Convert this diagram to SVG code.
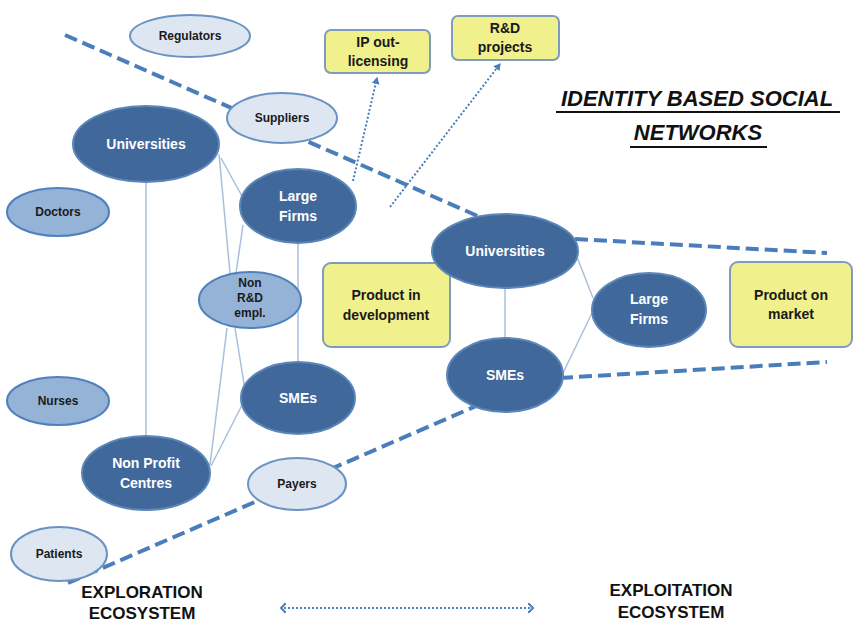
<svg xmlns="http://www.w3.org/2000/svg" width="854" height="625" viewBox="0 0 854 625">
<defs>
<marker id="ah" markerWidth="8" markerHeight="8" refX="6" refY="4" orient="auto" markerUnits="userSpaceOnUse">
<path d="M0,0 L7,4 L0,8 Z" fill="#4a7ebb"/>
</marker>
<marker id="ahs" markerWidth="8" markerHeight="10" refX="2" refY="5" orient="auto-start-reverse" markerUnits="userSpaceOnUse">
<path d="M0,0 L5,5 L0,10" fill="none" stroke="#4a7ebb" stroke-width="2"/>
</marker>
<style>
.dark{fill:#41689b;stroke:#5b86b8;stroke-width:2}
.mid{fill:#95b3d7;stroke:#4f81bd;stroke-width:2}
.light{fill:#dde6f1;stroke:#6a93c4;stroke-width:2}
.box{fill:#f0f08c;stroke:#7f9bbf;stroke-width:2}
.t{font-family:"Liberation Sans",Arial,sans-serif;font-weight:bold;text-anchor:middle}
.w{fill:#ffffff;font-size:14px}
.d{fill:#1a1a1a;font-size:12px}
.b{fill:#1a1a1a;font-size:14px}
.thin{stroke:#a9c0dc;stroke-width:1.5;fill:none}
.dash{stroke:#4a7ebb;stroke-width:4;stroke-dasharray:13 6;fill:none}
.dot{stroke:#4a7ebb;stroke-width:2;stroke-dasharray:2 2;fill:none}
.big{font-family:"Liberation Sans",Arial,sans-serif;font-weight:bold;fill:#111;font-size:17px;text-anchor:middle}
.title{font-family:"Liberation Sans",Arial,sans-serif;font-weight:bold;font-style:italic;fill:#111;font-size:22px;text-anchor:middle}
</style>
</defs>
<rect width="854" height="625" fill="#ffffff"/>

<g id="connectors">
<line class="dash" x1="65" y1="35" x2="505" y2="228"/>
<line class="dash" x1="575" y1="239" x2="827" y2="253"/>
<line class="dash" x1="68" y1="583" x2="520" y2="387"/>
<line class="dash" x1="560" y1="378" x2="827" y2="362"/>
<line class="thin" x1="146" y1="182" x2="146" y2="437"/>
<line class="thin" x1="219" y1="154" x2="230" y2="273"/>
<line class="thin" x1="221" y1="158" x2="243" y2="198"/>
<line class="thin" x1="243" y1="225" x2="236" y2="273"/>
<line class="thin" x1="298" y1="243" x2="298" y2="362"/>
<line class="thin" x1="227" y1="328" x2="210" y2="465"/>
<line class="thin" x1="235" y1="328" x2="247" y2="402"/>
<line class="thin" x1="242" y1="405" x2="211" y2="466"/>
<line class="thin" x1="505" y1="288" x2="505" y2="338"/>
<line class="thin" x1="577" y1="257" x2="593" y2="298"/>
<line class="thin" x1="563" y1="373" x2="593" y2="311"/>
<line class="dot" x1="353" y1="181" x2="377" y2="78" marker-end="url(#ah)"/>
<line class="dot" x1="390" y1="207" x2="500" y2="64" marker-end="url(#ah)"/>
<line class="dot" x1="284" y1="608" x2="530" y2="608" marker-start="url(#ahs)" marker-end="url(#ahs)"/>
</g>

<g id="regulators"><ellipse class="light" cx="190" cy="36" rx="60" ry="21"/><text class="t d" x="190" y="40">Regulators</text></g>
<g id="suppliers"><ellipse class="light" cx="282" cy="118" rx="55" ry="25"/><text class="t d" x="282" y="122">Suppliers</text></g>
<g id="universities-left"><ellipse class="dark" cx="146" cy="144" rx="73" ry="38"/><text class="t w" x="146" y="149">Universities</text></g>
<g id="doctors"><ellipse class="mid" cx="58" cy="212" rx="51" ry="24"/><text class="t d" x="58" y="216">Doctors</text></g>
<g id="large-firms-left"><ellipse class="dark" cx="298" cy="206" rx="58" ry="37"/><text class="t w" x="298" y="201">Large</text><text class="t w" x="298" y="221">Firms</text></g>
<g id="ip-out-licensing"><rect class="box" x="325" y="30" width="105" height="43" rx="6"/><text class="t b" x="378" y="47">IP out-</text><text class="t b" x="378" y="66">licensing</text></g>
<g id="rd-projects"><rect class="box" x="452" y="16" width="107" height="44" rx="6"/><text class="t b" x="505" y="33">R&amp;D</text><text class="t b" x="505" y="52">projects</text></g>
<g id="non-rd-empl"><ellipse class="mid" cx="250" cy="300" rx="51" ry="28"/><text class="t d" x="250" y="287">Non</text><text class="t d" x="250" y="302">R&amp;D</text><text class="t d" x="250" y="317">empl.</text></g>
<g id="product-in-development"><rect class="box" x="323" y="263" width="127" height="84" rx="8"/><text class="t b" x="386" y="300">Product in</text><text class="t b" x="386" y="320">development</text></g>
<g id="nurses"><ellipse class="mid" cx="58" cy="401" rx="51" ry="24"/><text class="t d" x="58" y="405">Nurses</text></g>
<g id="smes-left"><ellipse class="dark" cx="298" cy="398" rx="57" ry="36"/><text class="t w" x="298" y="403">SMEs</text></g>
<g id="non-profit-centres"><ellipse class="dark" cx="146" cy="473" rx="64" ry="37"/><text class="t w" x="146" y="468">Non Profit</text><text class="t w" x="146" y="488">Centres</text></g>
<g id="payers"><ellipse class="light" cx="297" cy="484" rx="49" ry="26"/><text class="t d" x="297" y="488">Payers</text></g>
<g id="patients"><ellipse class="light" cx="59" cy="554" rx="48" ry="27"/><text class="t d" x="59" y="558">Patients</text></g>
<g id="universities-right"><ellipse class="dark" cx="505" cy="251" rx="73" ry="37"/><text class="t w" x="505" y="256">Universities</text></g>
<g id="smes-right"><ellipse class="dark" cx="505" cy="375" rx="58" ry="37"/><text class="t w" x="505" y="380">SMEs</text></g>
<g id="large-firms-right"><ellipse class="dark" cx="649" cy="310" rx="57" ry="37"/><text class="t w" x="649" y="304">Large</text><text class="t w" x="649" y="324">Firms</text></g>
<g id="product-on-market"><rect class="box" x="730" y="262" width="122" height="85" rx="8"/><text class="t b" x="791" y="300">Product on</text><text class="t b" x="791" y="319">market</text></g>

<g id="title">
<text class="title" x="697" y="106">IDENTITY BASED SOCIAL</text>
<line x1="556" y1="112" x2="840" y2="112" stroke="#111" stroke-width="2"/>
<text class="title" x="698" y="140">NETWORKS</text>
<line x1="630" y1="147" x2="767" y2="147" stroke="#111" stroke-width="2"/>
</g>
<g id="labels">
<text class="big" x="142" y="598">EXPLORATION</text>
<text class="big" x="142" y="619">ECOSYSTEM</text>
<text class="big" x="671" y="596">EXPLOITATION</text>
<text class="big" x="671" y="618">ECOSYSTEM</text>
</g>
</svg>
